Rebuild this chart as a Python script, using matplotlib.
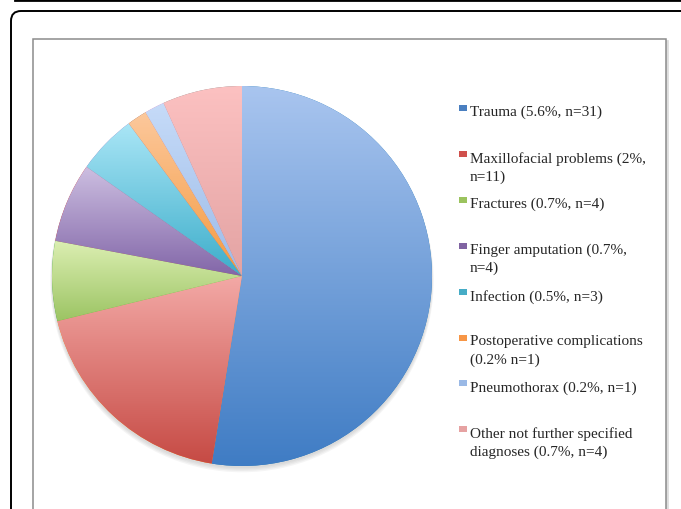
import matplotlib.pyplot as plt
import numpy as np
from matplotlib.colors import LinearSegmentedColormap
from matplotlib.patches import FancyBboxPatch, Rectangle

# data
labels = [
    "Trauma (5.6%, n=31)",
    "Maxillofacial problems (2%,\nn=11)",
    "Fractures (0.7%, n=4)",
    "Finger amputation (0.7%,\nn=4)",
    "Infection (0.5%, n=3)",
    "Postoperative complications\n(0.2% n=1)",
    "Pneumothorax (0.2%, n=1)",
    "Other not further specified\ndiagnoses (0.7%, n=4)",
]
counts = [31, 11, 4, 4, 3, 1, 1, 4]

light = ["#a9c5ef", "#f3a9a6", "#dcefb3", "#cdbfe1", "#aae6f6", "#fcc89c", "#c6dbf8", "#fcc1c1"]
dark = ["#3f7cc4", "#c64a44", "#9cc463", "#8266a8", "#3cadca", "#f49a40", "#9cbbe8", "#e3a3a3"]
marker = ["#4a7fc0", "#d0504c", "#9bc35e", "#8064a2", "#46acc6", "#f79646", "#9ab9e6", "#e6a2a2"]

W, H = 681, 510
fig = plt.figure(figsize=(W / 100, H / 100), dpi=100)

# background frame in pixel coords
bg = fig.add_axes([0, 0, 1, 1])
bg.set_xlim(0, W)
bg.set_ylim(H, 0)
bg.axis("off")
bg.plot([15, W], [1.0, 1.0], color="black", lw=2, clip_on=False, zorder=5)
bg.add_patch(FancyBboxPatch((11, 12), W + 40, H, boxstyle="round,pad=0,rounding_size=10",
                            fc="white", ec="black", lw=1.4))
bg.add_patch(Rectangle((35, 42), 632, H, fc="none", ec="#dddddd", lw=2))
bg.add_patch(Rectangle((33, 40), 633, H, fc="white", ec="#8c8c8c", lw=1.1))

# legend
for i, (lab, col) in enumerate(zip(labels, marker)):
    y = 114 + 45.9 * i
    bg.add_patch(Rectangle((459, y - 8), 8, 6, fc=col, ec="none"))
    bg.text(470, y - 8, lab, fontsize=11, family="Liberation Serif", color="#262626",
            va="top", ha="left", linespacing=1.45)

# pie
cx, cy, r = 242, 277, 190
ax = fig.add_axes([(cx - r) / W, (H - cy - r) / H, 2 * r / W, 2 * r / H])
wedges, _ = ax.pie(counts, startangle=90, counterclock=False,
                   wedgeprops=dict(edgecolor="none", linewidth=0))
# soft shadow
for k in range(4):
    ax.add_patch(plt.Circle((0, -0.012 - 0.004 * k), 1.0 + 0.003 * k, color="gray",
                            alpha=0.08, zorder=0, lw=0, clip_on=False))
for w, lc, dc in zip(wedges, light, dark):
    w.set_zorder(1)
    ext = w.get_path().get_extents()
    cmap = LinearSegmentedColormap.from_list("g", [lc, dc])
    grad = np.linspace(1, 0, 256)[:, None]
    im = ax.imshow(grad, extent=[ext.x0, ext.x1, ext.y0, ext.y1], origin="lower",
                   cmap=cmap, aspect="auto", zorder=2, interpolation="bilinear")
    im.set_clip_path(w)
ax.set_xlim(-1, 1)
ax.set_ylim(-1, 1)
ax.set_aspect("equal")
ax.axis("off")

fig.savefig("out.png", dpi=100)
